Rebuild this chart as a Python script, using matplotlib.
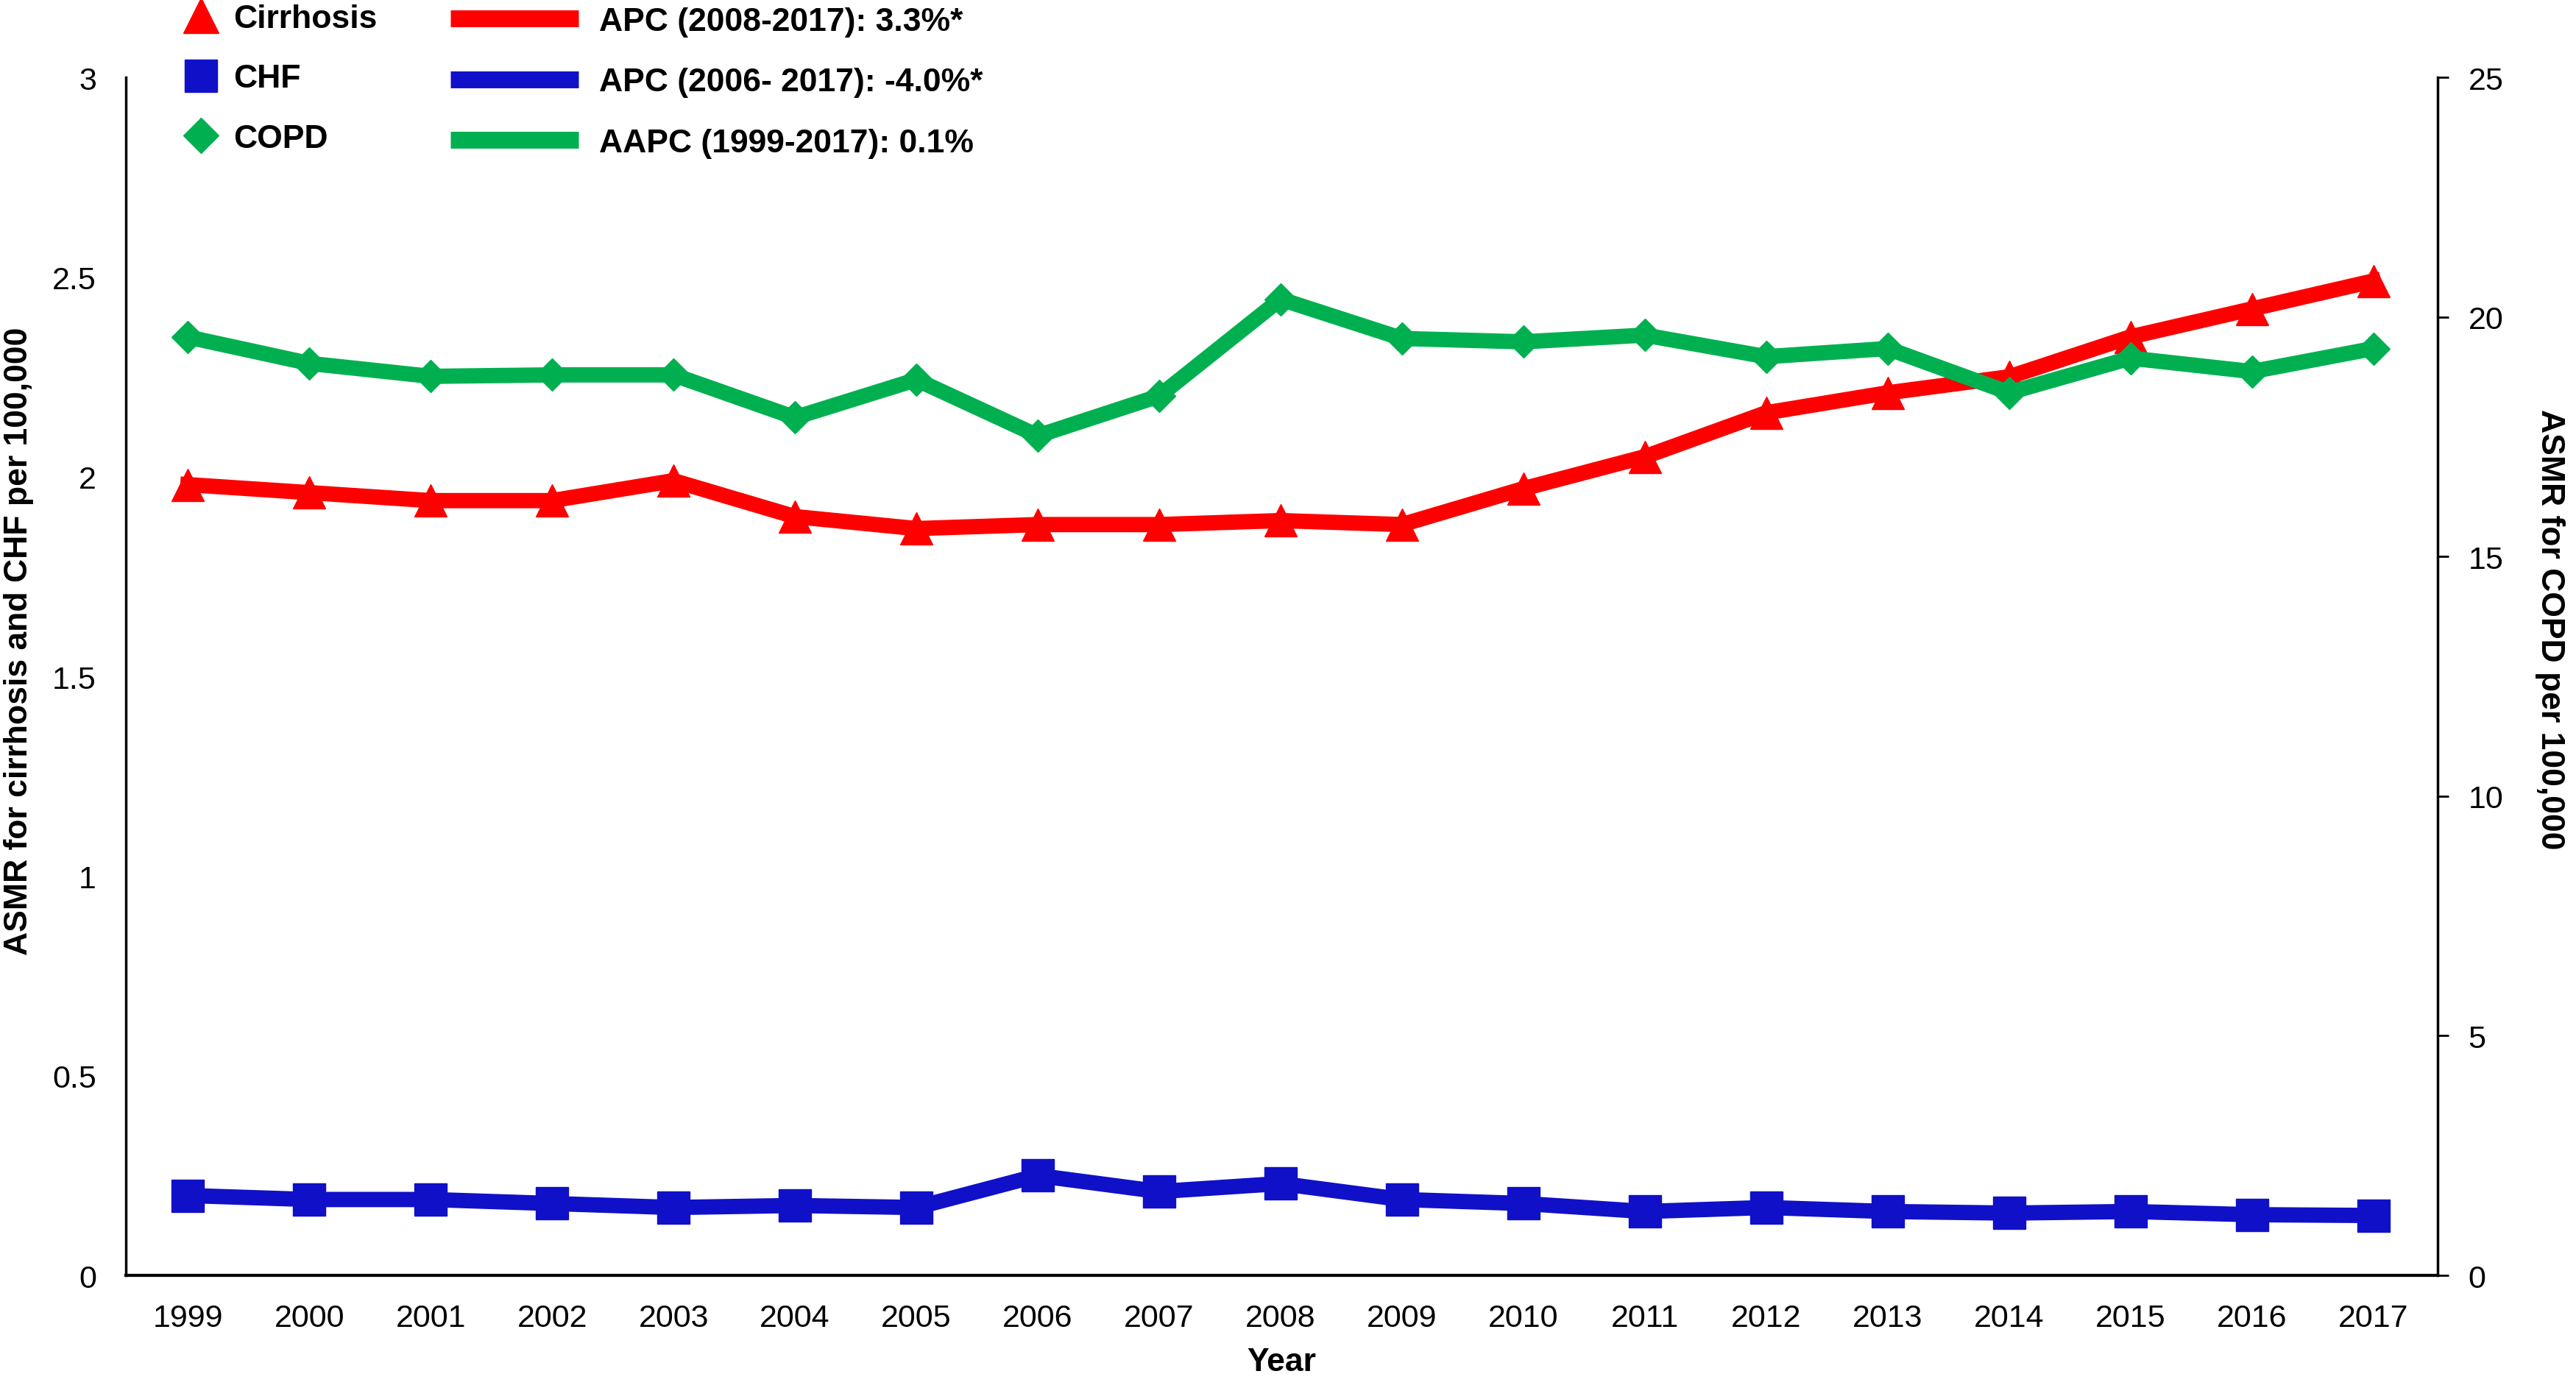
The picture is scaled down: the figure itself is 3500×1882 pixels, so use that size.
import matplotlib
matplotlib.use("Agg")
from matplotlib import pyplot as plt
from matplotlib.lines import Line2D

plt.rcParams['font.family'] = ['Liberation Sans', 'DejaVu Sans']

# data
years = list(range(1999, 2018))
cirrhosis = [1.98, 1.96, 1.94, 1.94, 1.99, 1.90, 1.87, 1.88, 1.88, 1.89,
             1.88, 1.97, 2.05, 2.16, 2.21, 2.25, 2.35, 2.42, 2.49]
chf = [0.20, 0.19, 0.19, 0.18, 0.17, 0.175, 0.17, 0.25, 0.21, 0.23,
       0.19, 0.18, 0.16, 0.17, 0.16, 0.156, 0.16, 0.152, 0.15]
copd = [19.58, 19.03, 18.76, 18.79, 18.79, 17.90, 18.69, 17.52, 18.35, 20.37,
        19.55, 19.48, 19.62, 19.17, 19.34, 18.42, 19.14, 18.86, 19.34]

left_ticks = [0, 0.5, 1, 1.5, 2, 2.5, 3]
left_tick_labels = ["0", "0.5", "1", "1.5", "2", "2.5", "3"]
right_ticks = [0, 5, 10, 15, 20, 25]

series_names = ["Cirrhosis", "CHF", "COPD"]
trend_labels = ["APC (2008-2017): 3.3%*", "APC (2006- 2017): -4.0%*",
                "AAPC (1999-2017): 0.1%"]

red = "#FF0000"
blue = "#1010C8"
green = "#00B050"

fig = plt.figure(figsize=(35, 18.83), dpi=100)
ax = fig.add_axes([0.0489, 0.0791, 0.8974, 0.8646])
ax2 = ax.twinx()

# lines
ax.plot(years, cirrhosis, color=red, lw=15, marker="^", ms=32, zorder=3)
ax.plot(years, chf, color=blue, lw=15, marker="s", ms=32, zorder=3)
ax2.plot(years, copd, color=green, lw=15, marker="D", ms=22, zorder=3)

ax.set_xlim(1998.49, 2017.53)
ax.set_ylim(0, 3)
ax2.set_ylim(0, 25)

ax.set_xticks(years)
ax.set_xticklabels([str(y) for y in years], fontsize=31)
ax.set_yticks(left_ticks)
ax.set_yticklabels(left_tick_labels, fontsize=31)
ax.tick_params(axis="both", length=0)
ax.tick_params(axis="y", pad=29)
ax.tick_params(axis="x", pad=27)

ax2.set_yticks(right_ticks)
ax2.tick_params(axis="y", direction="out", length=11, width=2, pad=19, labelsize=31)

for s in ["top", "right"]:
    ax.spines[s].set_visible(False)
for s in ["top", "left", "bottom"]:
    ax2.spines[s].set_visible(False)
ax.spines["left"].set_linewidth(2.5)
ax.spines["bottom"].set_linewidth(3)
ax2.spines["right"].set_linewidth(2.5)

ax.set_xlabel("Year", fontsize=32, fontweight="bold", labelpad=14)
ax.set_ylabel("ASMR for cirrhosis and CHF per 100,000", fontsize=32,
              fontweight="bold")
ax.yaxis.set_label_coords(-0.040, 0.53)
ax2.set_ylabel("ASMR for COPD per 100,000", fontsize=32, fontweight="bold",
               rotation=270)
ax2.yaxis.set_label_coords(1.055, 0.54)

# legends
marker_handles = [
    Line2D([], [], color=red, marker="^", ls="none", ms=34),
    Line2D([], [], color=blue, marker="s", ls="none", ms=31),
    Line2D([], [], color=green, marker="D", ls="none", ms=24),
]
line_handles = [
    Line2D([], [], color=red, lw=16.5, solid_capstyle="butt"),
    Line2D([], [], color=blue, lw=16.5, solid_capstyle="butt"),
    Line2D([], [], color=green, lw=16.5, solid_capstyle="butt"),
]
prop = {"size": 32, "weight": "bold"}
fig.legend(marker_handles, series_names, loc="upper left",
           bbox_to_anchor=(0.0717, 0.997), frameon=False, borderpad=0,
           borderaxespad=0, handlelength=1.0, handletextpad=0.5,
           labelspacing=0.91, prop=prop)
fig.legend(line_handles, trend_labels, loc="upper left",
           bbox_to_anchor=(0.1749, 0.9947), frameon=False, borderpad=0,
           borderaxespad=0, handlelength=3.92, handletextpad=0.63,
           labelspacing=0.93, prop=prop)

fig.savefig("out.png", dpi=100)
